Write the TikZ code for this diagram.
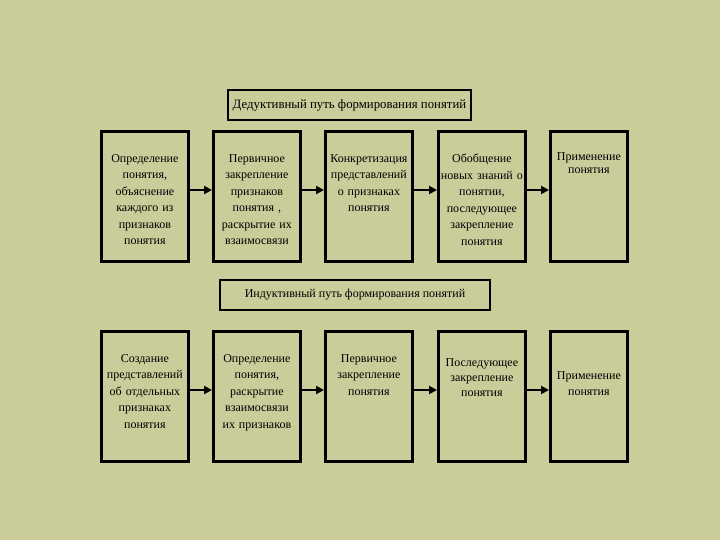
\documentclass[tikz,border=0pt]{standalone}
\usepackage{fontspec}
\setmainfont{Liberation Serif}
\usetikzlibrary{arrows.meta}
\definecolor{bg}{RGB}{202,204,153}
\begin{document}
\begin{tikzpicture}[x=1pt,y=-1pt,
  box/.style={draw=black,line width=2.8pt,fill=bg,minimum width=87pt,minimum height=130pt,inner sep=0pt,anchor=north west},
  ttl/.style={draw=black,line width=2.6pt,fill=bg,inner sep=0pt,font=\fontsize{12}{14}\selectfont},
  txt/.style={align=center,inner sep=0pt,font=\fontsize{12}{16.5}\selectfont,text width=86pt,anchor=north},
  arr/.style={line width=2.6pt,-{Triangle[length=8pt,width=8pt]}}]
\fill[bg] (0,0) rectangle (720,540);
\useasboundingbox (0,0) rectangle (720,540);
% top
\node[ttl,minimum width=243pt,minimum height=30pt,font=\fontsize{12.8}{14}\selectfont] (T1) at (349.5,105) {Дедуктивный путь формирования понятий};
\node[box] (a1) at (100,130) {};
\node[box] (a2) at (212,130) {};
\node[box] (a3) at (324,130) {};
\node[box] (a4) at (437,130) {};
\node[box,minimum width=77pt] (a5) at (549,130) {};
\node[txt] (ta1) at ([yshift=-24pt]a1.north) {Определение\\понятия,\\объяснение\\каждого из\\признаков\\понятия};
\node[txt] (ta2) at ([yshift=-24pt]a2.north) {Первичное\\закрепление\\признаков\\понятия ,\\раскрытие их\\взаимосвязи};
\node[txt] (ta3) at ([yshift=-24pt]a3.north) {Конкретизация\\представлений\\о признаках\\понятия};
\node[txt] (ta4) at ([yshift=-24pt]a4.north) {Обобщение\\новых знаний о\\понятии,\\последующее\\закрепление\\понятия};
\node[txt,text width=76pt,font=\fontsize{12}{13}\selectfont] (ta5) at ([yshift=-22pt]a5.north) {Применение\\понятия};
\draw[arr] (a1.east |- 0,190) -- (a2.west |- 0,190);
\draw[arr] (a2.east |- 0,190) -- (a3.west |- 0,190);
\draw[arr] (a3.east |- 0,190) -- (a4.west |- 0,190);
\draw[arr] (a4.east |- 0,190) -- (a5.west |- 0,190);
% bottom
\node[ttl,minimum width=270pt,minimum height=30pt] (T2) at (355,295) {Индуктивный путь формирования понятий};
\node[box] (b1) at (100,330) {};
\node[box] (b2) at (212,330) {};
\node[box] (b3) at (324,330) {};
\node[box] (b4) at (437,330) {};
\node[box,minimum width=77pt] (b5) at (549,330) {};
\node[txt] (tb1) at ([yshift=-24pt]b1.north) {Создание\\представлений\\об отдельных\\признаках\\понятия};
\node[txt] (tb2) at ([yshift=-24pt]b2.north) {Определение\\понятия,\\раскрытие\\взаимосвязи\\их признаков};
\node[txt] (tb3) at ([yshift=-24pt]b3.north) {Первичное\\закрепление\\понятия};
\node[txt,font=\fontsize{12}{15}\selectfont] (tb4) at ([yshift=-28pt]b4.north) {Последующее\\закрепление\\понятия};
\node[txt,text width=76pt] (tb5) at ([yshift=-41pt]b5.north) {Применение\\понятия};
\draw[arr] (b1.east |- 0,390) -- (b2.west |- 0,390);
\draw[arr] (b2.east |- 0,390) -- (b3.west |- 0,390);
\draw[arr] (b3.east |- 0,390) -- (b4.west |- 0,390);
\draw[arr] (b4.east |- 0,390) -- (b5.west |- 0,390);
\end{tikzpicture}
\end{document}
